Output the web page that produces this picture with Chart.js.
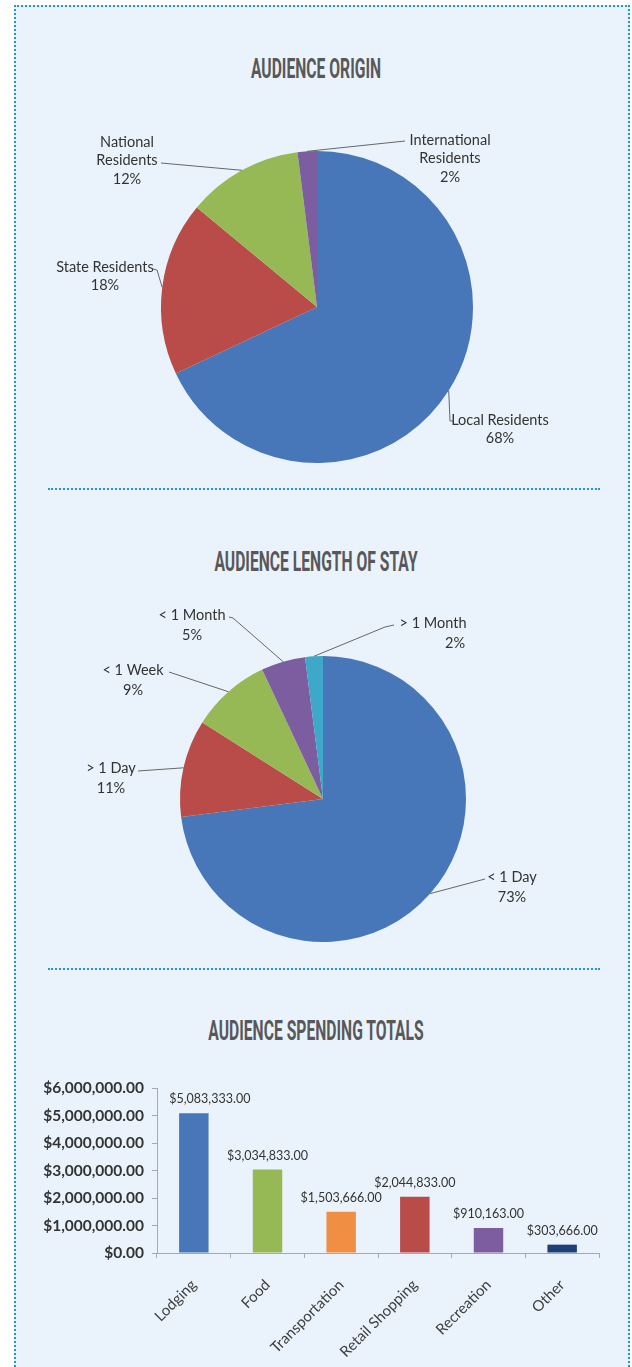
<!DOCTYPE html>
<html>
<head>
<meta charset="utf-8">
<title>Audience</title>
<script src="https://cdn.jsdelivr.net/npm/chart.js@4.4.1/dist/chart.umd.min.js"></script>
<style>
	html, body { margin: 0; width: 632px; height: 1367px; overflow: hidden; background: #fff; }
	.panel { position: absolute; left: 14px; top: 5px; width: 612px; height: 1400px; border: 2px dotted #1a9ad6; border-bottom: none; background: #eaf3fb; }
	.rule { position: absolute; left: 48px; width: 552px; height: 0; border-top: 2px dotted #1a9ad6; }
	h2 { position: absolute; left: 0; width: 632px; margin: 0; text-align: center; font: 700 28px Roboto; line-height: 1; color: #58585a; transform: scaleX(0.56); }
	canvas { position: absolute; left: 16px; filter: blur(0.6px); }
</style>
</head>
<body>
<div class="panel"></div>
<h2 style="top:55px">AUDIENCE ORIGIN</h2>
<canvas id="origin" width="612" height="380" style="top:100px"></canvas>
<div class="rule" style="top:488px"></div>
<h2 style="top:548px">AUDIENCE LENGTH OF STAY</h2>
<canvas id="stay" width="612" height="385" style="top:575px"></canvas>
<div class="rule" style="top:968px"></div>
<h2 style="top:1017px">AUDIENCE SPENDING TOTALS</h2>
<canvas id="spend" width="612" height="307" style="top:1060px"></canvas>
<script>
const originLabels = ['Local Residents', 'State Residents', 'National Residents', 'International Residents']
const originValues = [68, 18, 12, 2]

const stayLabels = ['< 1 Day', '> 1 Day', '< 1 Week', '< 1 Month', '> 1 Month']
const stayValues = [73, 11, 9, 5, 2]

const spendLabels = ['Lodging', 'Food', 'Transportation', 'Retail Shopping', 'Recreation', 'Other']
const spendValues = [5083333, 3034833, 1503666, 2044833, 910163, 303666]
const spendTicks = [0, 1000000, 2000000, 3000000, 4000000, 5000000, 6000000]

const blue = '#4777b8'
const red = '#b94b49'
const green = '#96b955'
const purple = '#7c5ea0'
const cyan = '#3ea8c8'
const orange = '#f08f43'
const navy = '#1f3f78'

Chart.defaults.font.family = 'Lato'
Chart.defaults.color = '#404040'

function money(v) {
	return '$' + v.toLocaleString('en-US', { minimumFractionDigits: 2, maximumFractionDigits: 2 })
}

// excel style outside labels: leader line from the middle of each arc to its text
const pieLabels = {
	id: 'pieLabels',
	afterDatasetsDraw(chart, args, opts) {
		const ctx = chart.ctx
		const values = chart.data.datasets[0].data
		const total = values.reduce((a, b) => a + b, 0)
		ctx.save()
		ctx.font = '14.5px Lato'
		ctx.textAlign = 'center'
		ctx.textBaseline = 'middle'
		ctx.fillStyle = '#333'
		ctx.strokeStyle = '#666'
		ctx.lineWidth = 1
		chart.getDatasetMeta(0).data.forEach((arc, i) => {
			const place = opts.places[i]
			const mid = (arc.startAngle + arc.endAngle) / 2
			ctx.beginPath()
			ctx.moveTo(arc.x + Math.cos(mid) * arc.outerRadius, arc.y + Math.sin(mid) * arc.outerRadius)
			place.hook.forEach(p => ctx.lineTo(arc.x + p[0], arc.y + p[1]))
			ctx.stroke()
			const name = chart.data.labels[i]
			const lines = place.wrap ? name.split(' ') : [name]
			lines.push(Math.round(values[i] / total * 100) + '%')
			lines.forEach((t, k) => {
				// the percent line of some labels sits off centre
				const dx = k === lines.length - 1 ? (place.pctShift || 0) : 0
				ctx.fillText(t, arc.x + place.at[0] + dx, arc.y + place.at[1] + k * opts.lineHeight)
			})
		})
		ctx.restore()
	}
}

function getPie(id, labels, values, colors, padding, places, lineHeight) {
	return new Chart(document.getElementById(id), {
		type: 'pie',
		data: {
			labels: labels,
			datasets: [{
				data: values,
				backgroundColor: colors,
				borderWidth: 0,
			}]
		},
		options: {
			responsive: false,
			animation: false,
			radius: padding.radius,
			layout: { padding: padding },
			plugins: {
				legend: { display: false },
				tooltip: { enabled: false },
				pieLabels: { places: places, lineHeight: lineHeight },
			},
		},
		plugins: [pieLabels],
	})
}

getPie('origin', originLabels, originValues, [blue, red, green, purple],
	{ left: 0, right: 10, top: 34, bottom: 0, radius: 156 },
	[
		{ at: [183, 113], hook: [[133, 114], [136, 114]] },
		{ at: [-212, -40], hook: [[-160, -37], [-164, -38]] },
		{ at: [-190, -165], hook: [[-156, -144]], wrap: true },
		{ at: [133, -167], hook: [[88, -166]], wrap: true },
	], 18.5)

getPie('stay', stayLabels, stayValues, [blue, red, green, purple, cyan],
	{ left: 2, right: 0, top: 63, bottom: 0, radius: 143 },
	[
		{ at: [189, 78], hook: [[162, 80]] },
		{ at: [-212, -31], hook: [[-185, -28]] },
		{ at: [-190, -129], hook: [[-154, -127]] },
		{ at: [-131, -184], hook: [[-90, -181], [-94, -182]] },
		{ at: [110, -176], hook: [[62, -172], [71, -174]], pctShift: 22 },
	], 20)

// dollar amounts above each bar
const barValues = {
	id: 'barValues',
	afterDatasetsDraw(chart, args, opts) {
		const ctx = chart.ctx
		const values = chart.data.datasets[0].data
		ctx.save()
		ctx.font = '12.5px Lato'
		ctx.textAlign = 'center'
		ctx.textBaseline = 'middle'
		ctx.fillStyle = '#333'
		chart.getDatasetMeta(0).data.forEach((bar, i) => {
			ctx.fillText(money(values[i]), bar.x + (opts.nudge[i] || 0), bar.y - 14)
		})
		ctx.restore()
	}
}

new Chart(document.getElementById('spend'), {
	type: 'bar',
	data: {
		labels: spendLabels,
		datasets: [{
			data: spendValues,
			backgroundColor: [blue, green, orange, red, purple, navy],
			borderWidth: 0,
			barPercentage: 0.4,
			categoryPercentage: 1,
		}]
	},
	options: {
		responsive: false,
		animation: false,
		layout: { padding: { top: 28, right: 29, left: 0, bottom: 0 } },
		plugins: {
			legend: { display: false },
			tooltip: { enabled: false },
			barValues: { nudge: [16] },
		},
		scales: {
			x: {
				grid: { drawOnChartArea: false, offset: true, tickLength: 5, color: '#a9a9a9' },
				border: { color: '#a9a9a9' },
				ticks: { minRotation: 45, maxRotation: 45, padding: 18, font: { size: 15 }, color: '#404040' },
				afterFit: s => { s.height = 114 },
			},
			y: {
				min: 0,
				max: 6000000,
				afterBuildTicks: s => { s.ticks = spendTicks.map(v => ({ value: v })) },
				grid: { drawOnChartArea: false, tickLength: 5, color: '#a9a9a9' },
				border: { color: '#a9a9a9' },
				ticks: { callback: v => money(v), padding: 8, font: { size: 15.5, weight: 'bold' }, color: '#333' },
				afterFit: s => { s.width = 141 },
			},
		},
	},
	plugins: [barValues],
})
</script>
</body>
</html>
